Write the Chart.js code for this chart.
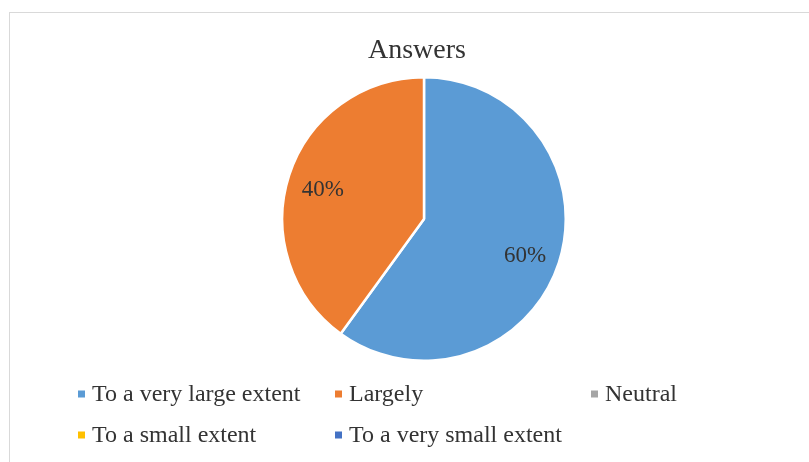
<!DOCTYPE html>
<html>
<head>
<meta charset="utf-8">
<script src="https://cdn.jsdelivr.net/npm/chart.js@4.4.1/dist/chart.umd.min.js"></script>
<style>
  html, body { margin: 0; padding: 0; background: #fff; }
  #frame { position: absolute; left: 9px; top: 12px; width: 830px; height: 480px; border: 1px solid #d9d9d9; }
  #wrap { position: absolute; left: 0; top: 0; width: 809px; height: 462px; }
</style>
</head>
<body>
<div id="frame"></div>
<div id="wrap"><canvas id="grafico"></canvas></div>
<script>
// datos del gráfico
const categorias = ['To a very large extent', 'Largely', 'Neutral', 'To a small extent', 'To a very small extent'];
const valores = [60, 40, 0, 0, 0];
const colores = ['#5B9BD5', '#ED7D31', '#A5A5A5', '#FFC000', '#4472C4'];
const titulo = 'Answers';

const serif = '"Liberation Serif", "Times New Roman", serif';
const colorTexto = '#333333';

// etiquetas de porcentaje dentro de cada porción
const etiquetasPlugin = {
    id: 'etiquetas',
    afterDatasetsDraw(chart) {
        const ctx = chart.ctx;
        const meta = chart.getDatasetMeta(0);
        const total = valores.reduce((a, b) => a + b, 0);
        ctx.save();
        ctx.font = '23px ' + serif;
        ctx.fillStyle = colorTexto;
        ctx.textAlign = 'center';
        ctx.textBaseline = 'middle';
        meta.data.forEach((arc, i) => {
            if (!valores[i]) return;
            const p = arc.getProps(['x', 'y', 'startAngle', 'endAngle', 'outerRadius']);
            const mid = (p.startAngle + p.endAngle) / 2;
            const r = p.outerRadius * 0.75;
            const txt = Math.round(valores[i] / total * 100) + '%';
            ctx.fillText(txt, p.x + Math.cos(mid) * r, p.y + Math.sin(mid) * r + 4);
        });
        ctx.restore();
    }
};

// leyenda en columnas, como en Excel
const leyendaPlugin = {
    id: 'leyendaColumnas',
    afterDraw(chart) {
        const ctx = chart.ctx;
        const columnas = [78, 335, 591];
        const filas = [394, 435];
        ctx.save();
        ctx.font = '24px ' + serif;
        ctx.textBaseline = 'middle';
        ctx.textAlign = 'left';
        categorias.forEach((cat, i) => {
            const x = columnas[i % 3];
            const y = filas[Math.floor(i / 3)];
            ctx.fillStyle = colores[i];
            ctx.fillRect(x, y - 3.5, 7, 7);
            ctx.fillStyle = colorTexto;
            ctx.fillText(cat, x + 14, y + 1);
        });
        ctx.restore();
    }
};

const ctx = document.getElementById('grafico').getContext('2d');
new Chart(ctx, {
    type: 'pie',
    data: {
        labels: categorias,
        datasets: [{
            label: titulo,
            data: valores,
            backgroundColor: colores,
            borderColor: '#ffffff',
            borderWidth: 2.5,
            hoverOffset: 0
        }]
    },
    options: {
        responsive: true,
        maintainAspectRatio: false,
        animation: false,
        layout: {
            padding: { left: 281, right: 242, top: 76, bottom: 100 }
        },
        plugins: {
            legend: { display: false },
            tooltip: { enabled: false },
            title: { display: false }
        }
    },
    plugins: [etiquetasPlugin, leyendaPlugin, {
        id: 'tituloArriba',
        afterDraw(chart) {
            const c = chart.ctx;
            c.save();
            c.font = '28px ' + serif;
            c.fillStyle = colorTexto;
            c.textAlign = 'center';
            c.textBaseline = 'middle';
            c.fillText(titulo, 417, 51);
            c.restore();
        }
    }]
});
</script>
</body>
</html>
